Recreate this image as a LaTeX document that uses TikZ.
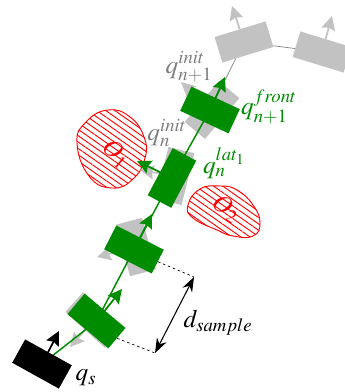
\documentclass[tikz,border=0pt]{standalone}
\usepackage{mathptmx}
\usetikzlibrary{arrows.meta,patterns.meta}
\definecolor{pathgreen}{RGB}{0,140,0}
\definecolor{ghost}{RGB}{194,194,194}
\definecolor{ghosttext}{RGB}{125,125,125}
\tikzset{
	robot/.style={rectangle,inner sep=0pt,minimum width=40pt,minimum height=20pt},
	motion/.style={line width=1.3pt,-{Stealth[length=10.5pt,width=10.5pt,inset=1.5pt]}},
	obstacle/.style={draw=red,line width=.7pt,pattern={Lines[angle=-35,distance=3.9pt,line width=.7pt]},pattern color=red},
	bigmath/.style={font=\fontsize{19}{21}\selectfont,inner sep=0pt},
}
\begin{document}
\begin{tikzpicture}[x=.75pt,y=-.75pt]
	\clip (0,0) rectangle (345,392);
	% obstacles
	\draw[obstacle] plot[smooth cycle,tension=.8] coordinates {(77,143) (86,122) (108,110) (130,117) (144,137) (145,158) (133,179) (112,188) (89,176)};
	\draw[obstacle] plot[smooth cycle,tension=.8] coordinates {(188,205) (200,189) (220,186) (237,190) (253,205) (260,223) (253,236) (233,236) (217,230) (193,218)};
	\node[bigmath,text=red,rotate=-40] at (116,154) (o1) {$O_1$};
	\node[bigmath,text=red,rotate=-33] at (226,209) (o2) {$O_2$};
	% rejected samples
	\foreach \n/\x/\y/\a/\u/\v in {s1/94/320/-42/70/347, s2/136/247/-75/97/257, s3/175/176/76/140/170, s4/212/110/50/181/82, t1/244/42/17/232/6, t2/322/52/-17/332/16}{
		\node at (\x,\y) (\n) [robot,fill=ghost,rotate=\a] {};
		\coordinate (\n tip) at (\u,\v);
		\draw[motion,color=ghost] (\n.center) -- (\n tip);
	}
	\draw[ghosttext,line width=.5pt] (t1) -- (t2);
	% tree
	\foreach \n/\x/\y/\u/\v in {g1/96.5/321/122/289, g2/134/249.5/152/214, g3/172/178/137/161, g4/210/110/225/77}{
		\coordinate (\n c) at (\x,\y);
		\coordinate (\n tip) at (\u,\v);
	}
	\coordinate (qsc) at (42,364);
	\draw[ghosttext,line width=.5pt] (g4c) -- (t1);
	\draw[pathgreen,line width=1.1pt] (qsc) -- (g1c) -- (g2c) -- (g3c) -- (g4c);
	\foreach \n/\a in {g1/-40, g2/-27, g3/62, g4/-25}{
		\node at (\n c) (\n) [robot,fill=pathgreen,rotate=\a] {};
		\draw[motion,color=pathgreen] (\n.center) -- (\n tip);
	}
	\node at (qsc) (qs) [robot,fill=black,rotate=-29] {};
	\coordinate (qstip) at (59,331);
	\draw[motion,color=black] (qs.center) -- (qstip);
	% sample distance
	\coordinate (d1) at (194,277);
	\coordinate (d2) at (155,353);
	\draw[dash pattern=on 2pt off 2pt,line width=.5pt] (g2.east) -- (d1);
	\draw[dash pattern=on 2pt off 2pt,line width=.5pt] (g1.east) -- (d2);
	\draw[line width=.8pt,{Stealth[length=11pt,width=8pt]}-{Stealth[length=11pt,width=8pt]}] (d1) -- (d2);
	% labels
	\node[bigmath] at (218,323) (dsample) {$d_{sample}$};
	\node[bigmath] at (86,378) (qslabel) {$q_s$};
	\node[bigmath,text=ghosttext] at (167,133) (qninit) {$q_n^{init}$};
	\node[bigmath,text=ghosttext] at (189,67) (qnextinit) {$q_{n+1}^{init}$};
	\node[bigmath,text=pathgreen] at (269,107) (qfront) {$q_{n+1}^{front}$};
	\node[bigmath,text=pathgreen] at (224,163) (qlat) {$q_n^{lat_1}$};
\end{tikzpicture}
\end{document}
